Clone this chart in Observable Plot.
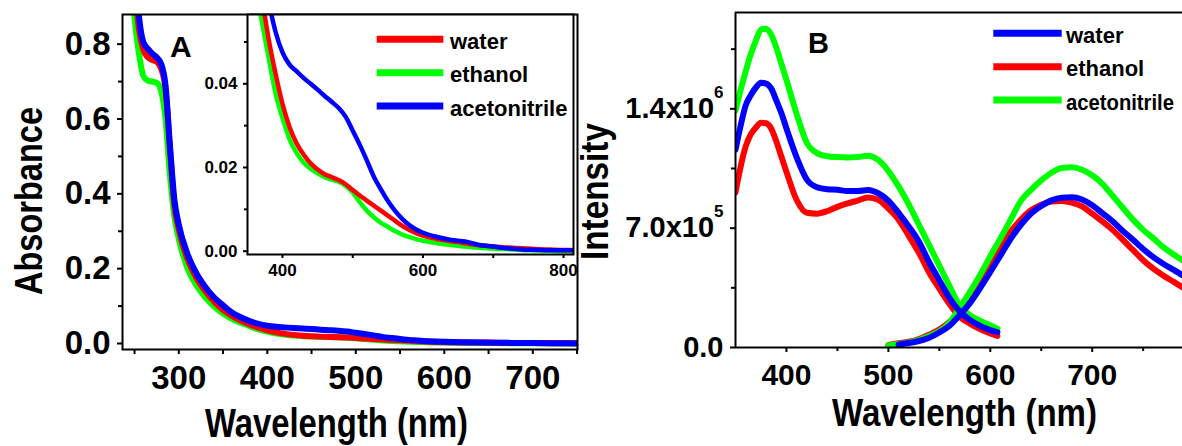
<!DOCTYPE html>
<html><head><meta charset="utf-8">
<script src="https://cdn.jsdelivr.net/npm/d3@7"></script>
<script src="https://cdn.jsdelivr.net/npm/@observablehq/plot@0.6"></script>
<style>
html,body{margin:0;padding:0;background:#fff;overflow:hidden}
#wrap{position:relative;width:1182px;height:446px;overflow:hidden;background:#fff}
#wrap > svg{position:absolute;top:0}
</style></head><body><div id="wrap"></div>
<script>
// ---------- Panel A: absorbance (shared wavelength grid) ----------
const absWl = [240,245,250,255,260,265,270,275,280,285,290,295,300,
  310,320,330,340,350,360,370,380,390,400,
  410,420,430,440,450,460,470,480,490,500,510,520,530,540,550,560,570,580,590,600,
  620,640,660,680,700,720,740,760,780,800,815];
const absWater = [1.30,1.12,0.97,0.84,0.785,0.765,0.758,0.753,0.735,0.68,0.52,0.37,0.305,
  0.225,0.175,0.14,0.112,0.09,0.074,0.0615,0.051,0.0425,0.0352,
  0.0297,0.0258,0.0231,0.0210,0.0195,0.0184,0.0177,0.0170,0.0160,0.0146,0.0133,0.0121,0.0109,0.0097,0.0085,0.0073,0.0061,0.0051,0.0043,0.0037,
  0.0029,0.0024,0.0019,0.0014,0.0011,0.0009,0.0007,0.0005,0.0004,0.0003,0.0003];
const absEthanol = [1.20,1.02,0.87,0.775,0.715,0.703,0.700,0.697,0.675,0.60,0.45,0.34,0.28,
  0.200,0.155,0.123,0.099,0.080,0.066,0.0555,0.0465,0.0378,0.0318,
  0.0268,0.0235,0.0212,0.0197,0.0186,0.0177,0.0171,0.0166,0.0156,0.0140,0.0117,0.0097,0.0081,0.0068,0.0058,0.0048,0.0040,0.0034,0.0029,0.0025,
  0.0019,0.0015,0.0011,0.0008,0.0006,0.0005,0.0003,0.0002,0.0001,0.0000,0.0000];
const absAcn = [1.40,1.20,1.03,0.875,0.805,0.788,0.775,0.765,0.748,0.69,0.53,0.385,0.318,
  0.238,0.187,0.151,0.123,0.102,0.083,0.070,0.060,0.0525,0.0475,
  0.0446,0.0430,0.0414,0.0400,0.0386,0.0371,0.0357,0.0342,0.0321,0.0288,0.0254,0.0217,0.0178,0.0148,0.0120,0.0097,0.0078,0.0063,0.0052,0.0044,
  0.0034,0.0027,0.0023,0.0015,0.0011,0.0007,0.0004,0.0003,0.0002,0.0002,0.0002];
const aXTicks = [300,400,500,600,700];
const aXMinor = [250,350,450,550,650,750];
const aYTicks = [0,0.2,0.4,0.6,0.8];
const aYMinor = [0.1,0.3,0.5,0.7];
const insetXTicks = [400,600,800];
const insetXMinor = [500,700];
const insetYTicks = [0,0.02,0.04];
const insetYMinor = [0.01,0.03,0.05];
const aSeries = ["water","ethanol","acetonitrile"];
const aColors = ["#ff0000","#00ff00","#0000ff"];

// ---------- Panel B: excitation + emission ----------
const exWl = [350,355,360,365,370,375,380,385,390,395,400,410,420,430,440,450,460,470,480,490,500,510,520,530,540,550,560,570,580,590,600,607];
const exWater = [1.16e6,1.30e6,1.42e6,1.48e6,1.525e6,1.553e6,1.548e6,1.52e6,1.45e6,1.375e6,1.285e6,1.115e6,0.985e6,0.94e6,0.928e6,0.925e6,0.918e6,0.918e6,0.924e6,0.905e6,0.862e6,0.79e6,0.71e6,0.62e6,0.50e6,0.395e6,0.29e6,0.212e6,0.162e6,0.127e6,0.102e6,0.09e6];
const exEthanol = [0.91e6,1.06e6,1.18e6,1.25e6,1.29e6,1.318e6,1.315e6,1.285e6,1.21e6,1.12e6,1.03e6,0.865e6,0.79e6,0.785e6,0.80e6,0.825e6,0.845e6,0.862e6,0.88e6,0.866e6,0.815e6,0.75e6,0.655e6,0.555e6,0.44e6,0.345e6,0.255e6,0.18e6,0.14e6,0.108e6,0.082e6,0.068e6];
const exAcn = [1.39e6,1.51e6,1.62e6,1.72e6,1.80e6,1.865e6,1.87e6,1.835e6,1.76e6,1.665e6,1.57e6,1.37e6,1.20e6,1.14e6,1.122e6,1.117e6,1.115e6,1.117e6,1.125e6,1.10e6,1.035e6,0.945e6,0.84e6,0.72e6,0.60e6,0.48e6,0.36e6,0.245e6,0.19e6,0.157e6,0.13e6,0.11e6];
const emWl = [500,505,510,520,530,540,550,560,570,580,590,600,610,620,630,640,650,660,670,680,690,700,710,720,730,740,750,760,770,780,790];
const emWater = [null,null,0.018e6,0.026e6,0.038e6,0.057e6,0.088e6,0.128e6,0.19e6,0.26e6,0.348e6,0.443e6,0.54e6,0.637e6,0.72e6,0.786e6,0.83e6,0.863e6,0.879e6,0.881e6,0.868e6,0.835e6,0.788e6,0.74e6,0.684e6,0.632e6,0.578e6,0.53e6,0.49e6,0.455e6,0.418e6];
const emEthanol = [0.015e6,0.02e6,0.025e6,0.034e6,0.05e6,0.075e6,0.105e6,0.15e6,0.22e6,0.31e6,0.405e6,0.50e6,0.60e6,0.68e6,0.75e6,0.805e6,0.838e6,0.856e6,0.86e6,0.85e6,0.828e6,0.785e6,0.74e6,0.69e6,0.632e6,0.572e6,0.512e6,0.462e6,0.421e6,0.385e6,0.348e6];
const emAcn = [0.012e6,0.016e6,0.02e6,0.03e6,0.045e6,0.068e6,0.095e6,0.145e6,0.235e6,0.325e6,0.425e6,0.535e6,0.64e6,0.75e6,0.86e6,0.925e6,0.98e6,1.025e6,1.053e6,1.057e6,1.043e6,1.01e6,0.96e6,0.89e6,0.82e6,0.75e6,0.69e6,0.64e6,0.587e6,0.545e6,0.505e6];
const bXTicks = [400,500,600,700];
const bXMinor = [450,550,650,750];
const bYTicks = [0,7e5,1.4e6];
const bYTickLabels = ["0.0","7.0x10^5","1.4x10^6"];
const bYMinor = [3.5e5,1.05e6,1.75e6];
const bSeries = ["water","ethanol","acetonitrile"];
const bColors = ["#0000ff","#ff0000","#00ff00"];

const FONT = "'Liberation Sans', Arial, Helvetica, sans-serif";
const rows = (wl, vals) => wl.map((x, i) => ({x, y: vals[i]})).filter(d => d.y != null);
const wrap = document.getElementById("wrap");

// ---------- Panel A main ----------
const plotA = Plot.plot({
  width: 590, height: 446,
  marginLeft: 122, marginRight: 13, marginTop: 14, marginBottom: 97,
  style: {background: "transparent", fontFamily: FONT, fontWeight: "bold", color: "#000"},
  x: {domain: [236.4, 750.5]},
  y: {domain: [-0.016, 0.8793]},
  marks: [
    Plot.line(rows(absWl, absEthanol), {x: "x", y: "y", stroke: aColors[1], strokeWidth: 6, curve: "monotone-x", clip: true}),
    Plot.line(rows(absWl, absWater), {x: "x", y: "y", stroke: aColors[0], strokeWidth: 6, curve: "monotone-x", clip: true}),
    Plot.line(rows(absWl, absAcn), {x: "x", y: "y", stroke: aColors[2], strokeWidth: 6, curve: "monotone-x", clip: true}),
    Plot.frame({stroke: "#000", strokeWidth: 2}),
    Plot.axisX(aXTicks, {tickSize: 5, tickPadding: 11, strokeWidth: 2, fontSize: 33, tickFormat: d => String(d), label: null}),
    Plot.axisX(aXMinor, {tickSize: 5, strokeWidth: 2, tickFormat: () => "", label: null}),
    Plot.axisY(aYTicks, {tickSize: 5, tickPadding: 7, strokeWidth: 2, fontSize: 33, tickFormat: d3.format(".1f"), label: null}),
    Plot.axisY(aYMinor, {tickSize: 4, strokeWidth: 2, tickFormat: () => "", label: null})
  ]
});
plotA.style.left = "0px";
wrap.appendChild(plotA);

// ---------- Panel A inset ----------
const plotI = Plot.plot({
  width: 400, height: 290,
  marginLeft: 67, marginRight: 7, marginTop: 14, marginBottom: 36,
  style: {background: "transparent", fontFamily: FONT, fontWeight: "bold", color: "#000"},
  x: {domain: [350.2, 814.2]},
  y: {domain: [-0.00079, 0.05656]},
  marks: [
    Plot.frame({fill: "#fff", stroke: "none"}),
    Plot.line(rows(absWl, absEthanol), {x: "x", y: "y", stroke: aColors[1], strokeWidth: 4.5, curve: "monotone-x", clip: true}),
    Plot.line(rows(absWl, absWater), {x: "x", y: "y", stroke: aColors[0], strokeWidth: 4.5, curve: "monotone-x", clip: true}),
    Plot.line(rows(absWl, absAcn), {x: "x", y: "y", stroke: aColors[2], strokeWidth: 4.5, curve: "monotone-x", clip: true}),
    Plot.frame({stroke: "#000", strokeWidth: 2}),
    Plot.axisX(insetXTicks, {tickSize: 4, tickPadding: 5, strokeWidth: 2, fontSize: 17, tickFormat: d => String(d), label: null}),
    Plot.axisX(insetXMinor, {tickSize: 4, strokeWidth: 2, tickFormat: () => "", label: null}),
    Plot.axisY(insetYTicks, {tickSize: 4, tickPadding: 6, strokeWidth: 2, fontSize: 17, tickFormat: d3.format(".2f"), label: null}),
    Plot.axisY(insetYMinor, {tickSize: 3, strokeWidth: 2, tickFormat: () => "", label: null})
  ]
});
plotI.style.left = "180px";
wrap.appendChild(plotI);

// ---------- Panel B ----------
const plotB = Plot.plot({
  width: 582, height: 446,
  marginLeft: 135, marginRight: 0, marginTop: 12, marginBottom: 99,
  style: {background: "transparent", fontFamily: FONT, fontWeight: "bold", color: "#000"},
  x: {domain: [350, 788.6]},
  y: {domain: [0, 1.965e6]},
  marks: [
    Plot.line(rows(exWl, exEthanol), {x: "x", y: "y", stroke: bColors[1], strokeWidth: 6, curve: "monotone-x", clip: true}),
    Plot.line(rows(emWl, emEthanol), {x: "x", y: "y", stroke: bColors[1], strokeWidth: 6, curve: "monotone-x", clip: true}),
    Plot.line(rows(exWl, exAcn), {x: "x", y: "y", stroke: bColors[2], strokeWidth: 6, curve: "monotone-x", clip: true}),
    Plot.line(rows(emWl, emAcn), {x: "x", y: "y", stroke: bColors[2], strokeWidth: 6, curve: "monotone-x", clip: true}),
    Plot.line(rows(exWl, exWater), {x: "x", y: "y", stroke: bColors[0], strokeWidth: 6, curve: "monotone-x", clip: true}),
    Plot.line(rows(emWl, emWater), {x: "x", y: "y", stroke: bColors[0], strokeWidth: 6, curve: "monotone-x", clip: true}),
    Plot.ruleY([0], {strokeWidth: 2}),
    Plot.ruleY([1.965e6], {strokeWidth: 2}),
    Plot.ruleX([350], {strokeWidth: 2}),
    Plot.axisX(bXTicks, {tickSize: 5, tickPadding: 11, strokeWidth: 2, fontSize: 30, tickFormat: d => String(d), label: null}),
    Plot.axisX(bXMinor, {tickSize: 4, strokeWidth: 2, tickFormat: () => "", label: null}),
    Plot.axisY(bYTicks, {tickSize: 5, tickPadding: 7, strokeWidth: 2, fontSize: 29, tickFormat: d => bYTickLabels[bYTicks.indexOf(d)], label: null}),
    Plot.axisY(bYMinor, {tickSize: 4, strokeWidth: 2, tickFormat: () => "", label: null})
  ]
});
plotB.style.left = "600px";
wrap.appendChild(plotB);
// superscript exponents on B's y tick labels
d3.select(plotB).selectAll("text").each(function () {
  const t = this.textContent;
  if (t.includes("^")) {
    const [base, exp] = t.split("^");
    const s = d3.select(this);
    s.text(base);
    s.append("tspan").attr("dy", "-20").attr("font-size", "17px").text(exp);
  }
});

// ---------- overlay: axis titles, panel letters, legends ----------
const ov = d3.select(wrap).append("svg")
  .attr("width", 1182).attr("height", 446)
  .style("left", "0px").style("pointer-events", "none")
  .attr("font-family", FONT).attr("font-weight", "bold").attr("fill", "#000");

ov.append("text").attr("transform", "translate(41.7,201) rotate(-90)")
  .attr("text-anchor", "middle").attr("font-size", 39)
  .attr("textLength", 188).attr("lengthAdjust", "spacingAndGlyphs").text("Absorbance");
ov.append("text").attr("transform", "translate(608,191.5) rotate(-90)")
  .attr("text-anchor", "middle").attr("font-size", 39)
  .attr("textLength", 137).attr("lengthAdjust", "spacingAndGlyphs").text("Intensity");
ov.append("text").attr("x", 336.5).attr("y", 437).attr("text-anchor", "middle").attr("font-size", 40)
  .attr("textLength", 263).attr("lengthAdjust", "spacingAndGlyphs").text("Wavelength (nm)");
ov.append("text").attr("x", 964.5).attr("y", 426).attr("text-anchor", "middle").attr("font-size", 39)
  .attr("textLength", 265).attr("lengthAdjust", "spacingAndGlyphs").text("Wavelength (nm)");
ov.append("text").attr("x", 170).attr("y", 57).attr("font-size", 30).text("A");
ov.append("text").attr("x", 808).attr("y", 53).attr("font-size", 29).text("B");

function legend(x1, x2, tx, y0, step, names, colors, maxLen) {
  names.forEach((n, i) => {
    const y = y0 + i * step;
    ov.append("line").attr("x1", x1).attr("x2", x2).attr("y1", y).attr("y2", y)
      .attr("stroke", colors[i]).attr("stroke-width", 7);
    const t = ov.append("text").attr("x", tx).attr("y", y + 9.5).attr("font-size", 22).text(n);
    if (maxLen && t.node().getComputedTextLength() > maxLen) {
      t.attr("textLength", maxLen).attr("lengthAdjust", "spacingAndGlyphs");
    }
  });
}
legend(376.7, 443.3, 450, 39.3, 33.35, aSeries, aColors, null);
legend(993.3, 1061.7, 1066, 33.3, 33.35, bSeries, bColors, 108);
</script></body></html>
